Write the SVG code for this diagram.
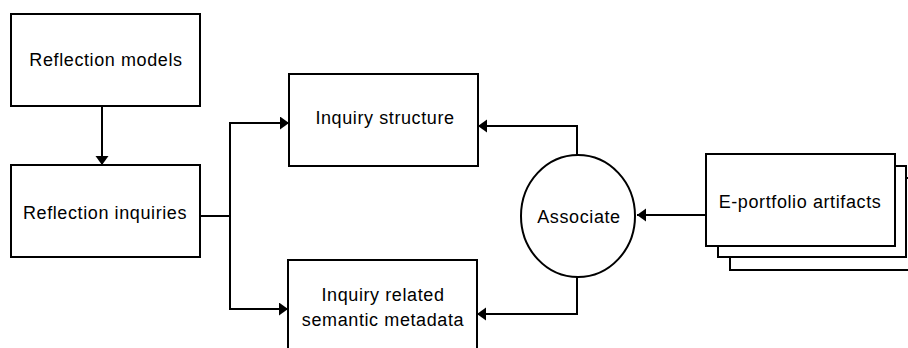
<svg xmlns="http://www.w3.org/2000/svg" width="908" height="348" viewBox="0 0 908 348">
<style>
.box{fill:#fff;stroke:#000;stroke-width:2}
.ln{fill:none;stroke:#000;stroke-width:2}
text{font-family:"Liberation Sans",Arial,sans-serif;font-size:18px;letter-spacing:0.6px;fill:#000;text-anchor:middle}
</style>
<defs>
<marker id="ah" markerUnits="userSpaceOnUse" markerWidth="10" markerHeight="14" refX="9" refY="6.5" orient="auto">
<path d="M0,0 L9,6.5 L0,13 z" fill="#000"/>
</marker>
</defs>
<rect width="908" height="348" fill="#fff"/>
<g id="connectors">
<path class="ln" d="M102,106 V165" marker-end="url(#ah)"/>
<path class="ln" d="M200,216 H230"/>
<path class="ln" d="M230,216 V123 H289" marker-end="url(#ah)"/>
<path class="ln" d="M230,216 V309 H288" marker-end="url(#ah)"/>
<path class="ln" d="M577,156 V126 H478" marker-end="url(#ah)"/>
<path class="ln" d="M577,277 V314 H477" marker-end="url(#ah)"/>
<path class="ln" d="M706,215 H637" marker-end="url(#ah)"/>
</g>
<g id="reflection-models">
<rect class="box" x="11" y="14" width="189" height="92"/>
<text x="106" y="66">Reflection models</text>
</g>
<g id="reflection-inquiries">
<rect class="box" x="11" y="165" width="189" height="92"/>
<text x="105" y="219">Reflection inquiries</text>
</g>
<g id="inquiry-structure">
<rect class="box" x="289" y="74" width="189" height="92"/>
<text x="385" y="124">Inquiry structure</text>
</g>
<g id="inquiry-metadata">
<rect class="box" x="288" y="260" width="189" height="100"/>
<text x="383" y="301">Inquiry related</text>
<text x="383" y="326">semantic metadata</text>
</g>
<g id="associate">
<ellipse class="box" cx="578" cy="216" rx="57" ry="61"/>
<text x="579" y="223">Associate</text>
</g>
<g id="e-portfolio">
<rect class="box" x="730" y="178" width="190" height="92"/>
<rect class="box" x="718" y="166" width="188" height="91"/>
<rect class="box" x="706" y="154" width="189" height="92"/>
<text x="800" y="208">E-portfolio artifacts</text>
</g>
</svg>
